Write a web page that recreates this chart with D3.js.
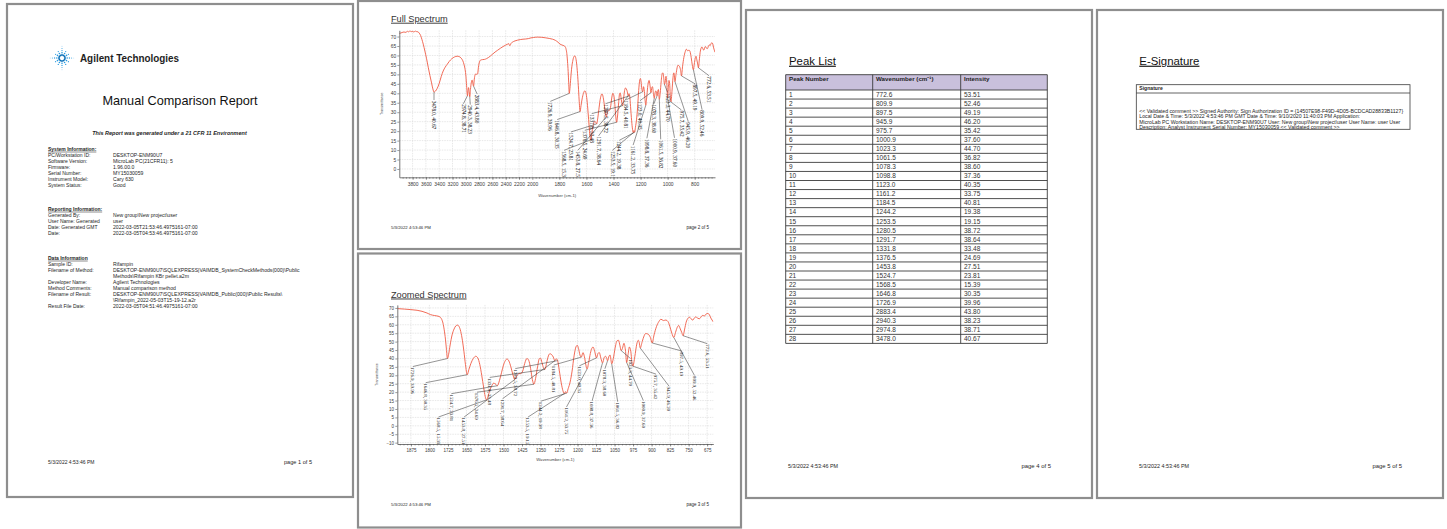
<!DOCTYPE html>
<html>
<head>
<meta charset="utf-8">
<script src="https://cdn.jsdelivr.net/npm/d3@7"></script>
<style>
  html, body { margin: 0; padding: 0; background: #fff; }
  svg { display: block; font-family: "Liberation Sans", Arial, sans-serif; }
</style>
</head>
<body>
<svg id="report" width="1447" height="529"></svg>
<script>
// ---- data ----
const peakWavenumbers = [772.6, 809.9, 897.5, 945.9, 975.7, 1000.9, 1023.3, 1061.5, 1078.3, 1098.8, 1123.0, 1161.2, 1184.5, 1244.2,
  1253.5, 1280.5, 1291.7, 1331.8, 1376.5, 1453.8, 1524.7, 1568.5, 1646.8, 1726.9, 2883.4, 2940.3, 2974.8, 3478.0];
const peakIntensities = [53.51, 52.46, 49.19, 46.20, 35.42, 37.60, 44.70, 36.82, 38.60, 37.36, 40.35, 33.75, 40.81, 19.38,
  19.15, 38.72, 38.64, 33.48, 24.69, 27.51, 23.81, 15.39, 30.35, 39.96, 43.80, 38.23, 38.71, 40.67];

// [wavenumber cm-1, %T]
const spectrumPoints = [
  [4000, 71.6], [3960, 72.1], [3930, 72.4], [3900, 72.2], [3880, 72.8], [3860, 72.5], [3840, 73.0], [3820, 72.6],
  [3800, 72.7], [3780, 72.4], [3760, 72.9], [3740, 72.6], [3720, 72.5], [3700, 71.8], [3680, 70.6], [3660, 68.5],
  [3640, 66.0], [3615, 62.3], [3590, 58.3], [3565, 53.8], [3540, 49.5], [3515, 45.5], [3495, 42.3], [3478, 40.67],
  [3455, 41.2], [3430, 42.6], [3400, 45.2], [3370, 48.8], [3340, 51.8], [3310, 53.8], [3280, 55.3], [3250, 56.8],
  [3210, 58.3], [3170, 59.2], [3130, 59.6], [3100, 59.4], [3070, 58.6], [3045, 57.2], [3025, 55.0], [3010, 52.5],
  [2998, 49.0], [2988, 44.0], [2974.8, 38.71], [2966, 41.5], [2958, 43.0], [2950, 41.0], [2940.3, 38.23], [2930, 42.0],
  [2918, 45.5], [2905, 47.0], [2895, 45.5], [2883.4, 43.80], [2872, 47.5], [2860, 49.8], [2848, 50.3], [2835, 50.0],
  [2822, 50.3], [2810, 53.8], [2795, 56.5], [2775, 57.6], [2750, 57.8], [2720, 57.9], [2690, 58.3], [2660, 58.9],
  [2630, 59.7], [2600, 60.6], [2560, 61.8], [2520, 62.8], [2480, 63.8], [2440, 64.7], [2400, 65.5], [2370, 66.0],
  [2355, 66.3], [2345, 65.4], [2335, 65.2], [2320, 66.4], [2300, 67.0], [2260, 67.7], [2220, 68.1], [2180, 68.4],
  [2140, 68.6], [2100, 68.7], [2060, 68.9], [2020, 69.3], [1990, 69.5], [1960, 69.7], [1930, 69.6], [1900, 69.3],
  [1875, 69.0], [1850, 68.6], [1830, 68.0], [1810, 67.0], [1795, 66.0], [1780, 65.5], [1765, 65.1], [1757, 64.6],
  [1750, 63.2], [1745, 61.0], [1740, 57.0], [1735, 51.5], [1731, 45.5], [1726.9, 39.96], [1722, 42.5], [1716, 48.0],
  [1708, 54.0], [1700, 57.5], [1693, 59.3], [1686, 59.8], [1680, 59.0], [1673, 56.0], [1666, 50.5], [1660, 44.0],
  [1654, 36.5], [1646.8, 30.35], [1640, 33.5], [1632, 37.0], [1622, 40.0], [1612, 41.3], [1604, 40.3], [1596, 36.5],
  [1588, 30.0], [1580, 22.5], [1574, 17.5], [1568.5, 15.39], [1562, 17.5], [1556, 21.0], [1548, 23.5], [1540, 25.3],
  [1532, 24.8], [1524.7, 23.81], [1516, 27.0], [1508, 31.5], [1500, 36.0], [1492, 38.8], [1486, 39.7], [1478, 38.5],
  [1470, 35.0], [1462, 30.5], [1453.8, 27.51], [1446, 29.5], [1438, 31.0], [1430, 31.0], [1422, 32.5], [1414, 37.0],
  [1405, 40.0], [1398, 39.0], [1390, 34.0], [1383, 27.5], [1376.5, 24.69], [1370, 28.0], [1362, 35.0], [1355, 39.8],
  [1350, 40.2], [1344, 37.5], [1338, 34.5], [1331.8, 33.48], [1325, 37.5], [1318, 41.5], [1312, 42.8], [1305, 42.3],
  [1298, 40.8], [1291.7, 38.64], [1286, 39.8], [1280.5, 38.72], [1274, 33.0], [1266, 25.5], [1259, 20.8], [1253.5, 19.15],
  [1249, 20.3], [1244.2, 19.38], [1238, 22.0], [1230, 26.0], [1222, 32.5], [1214, 41.5], [1206, 47.0], [1201, 47.8],
  [1196, 46.0], [1190, 42.0], [1184.5, 40.81], [1178, 43.5], [1172, 41.0], [1166, 36.0], [1161.2, 33.75], [1155, 37.5],
  [1148, 43.0], [1142, 46.0], [1137, 46.8], [1131, 44.5], [1123, 40.35], [1117, 43.0], [1112, 43.5], [1105, 40.0],
  [1098.8, 37.36], [1092, 40.5], [1087, 41.3], [1082, 40.2], [1078.3, 38.60], [1072, 41.5], [1068, 42.0], [1061.5, 36.82],
  [1055, 40.0], [1048, 46.0], [1040, 50.5], [1034, 50.8], [1028, 47.5], [1023.3, 44.70], [1018, 46.0], [1012, 49.0],
  [1006, 45.0], [1000.9, 37.60], [995, 42.5], [990, 46.8], [984, 44.0], [980, 38.0], [975.7, 35.42], [968, 41.0],
  [960, 48.5], [954, 50.8], [950, 49.5], [945.9, 46.20], [938, 50.0], [930, 53.5], [924, 54.8], [915, 54.5],
  [905, 52.5], [897.5, 49.19], [890, 54.0], [880, 59.0], [870, 62.0], [862, 63.3], [852, 62.5], [842, 62.8],
  [834, 62.0], [826, 59.0], [818, 55.0], [809.9, 52.46], [803, 55.5], [796, 58.5], [790, 59.6], [785, 58.0],
  [778, 55.5], [772.6, 53.51], [766, 57.5], [760, 61.5], [753, 63.8], [746, 64.5], [740, 63.5], [733, 62.8],
  [726, 64.2], [720, 64.7], [713, 63.8], [706, 63.6], [698, 65.0], [692, 65.6], [686, 65.2], [679, 66.4],
  [672, 66.7], [666, 66.0], [660, 64.0], [655, 62.8], [650, 61.7]
];

const fullXTicks = [3800, 3600, 3400, 3200, 3000, 2800, 2600, 2400, 2200, 2000, 1800, 1600, 1400, 1200, 1000, 800];
const fullYTicks = [0, 5, 10, 15, 20, 25, 30, 35, 40, 45, 50, 55, 60, 65, 70];
const zoomXTicks = [1875, 1800, 1725, 1650, 1575, 1500, 1425, 1350, 1275, 1200, 1125, 1050, 975, 900, 825, 750, 675];
const zoomYTicks = [-10, -5, 0, 5, 10, 15, 20, 25, 30, 35, 40, 45, 50, 55, 60, 65, 70];

const systemInfo = [
  ['PC/Workstation ID:', 'DESKTOP-ENM90U7'],
  ['Software Version:', 'MicroLab PC(21CFR11): 5'],
  ['Firmware:', '1.96.00.0'],
  ['Serial Number:', 'MY15030059'],
  ['Instrument Model:', 'Cary 630'],
  ['System Status:', 'Good']
];
const reportingInfo = [
  ['Generated By:', 'New group\\New project\\user'],
  ['User Name: Generated', 'user'],
  ['Date: Generated GMT', '2022-03-05T21:53:46.4975161-07:00'],
  ['Date:', '2022-03-05T04:53:46.4975161-07:00']
];
const dataInfo = [
  ['Sample ID:', 'Rifampin'],
  ['Filename of Method:', 'DESKTOP-ENM90U7\\SQLEXPRESS|VAIMDB_SystemCheckMethods(000)\\Public'],
  ['', 'Methods\\Rifampin KBr pellet.a2m'],
  ['Developer Name:', 'Agilent Technologies'],
  ['Method Comments:', 'Manual comparison method'],
  ['Filename of Result:', 'DESKTOP-ENM90U7\\SQLEXPRESS|VAIMDB_Public(000)\\Public Results\\'],
  ['', '\\Rifampin_2022-05-03T15-19-12.a2r'],
  ['Result File Date:', '2022-03-05T04:51:46.4975161-07:00']
];
const signatureLines = [
  '<< Validated comment >> Signed Authority: Sign Authorization ID = {14507E98-F49D-4D05-BCDCAD28833B1127}',
  'Local Date & Time: 5/3/2022 4:53:46 PM GMT Date & Time: 9/10/2020 11:40:03 PM Application:',
  'MicroLab PC Workstation Name: DESKTOP-ENM90U7 User: New group\\New project\\user User Name: user User',
  'Description: Analyst Instrument Serial Number: MY15030059 << Validated comment >>'
];
const printedAt = '5/3/2022 4:53:46 PM';

// ---- drawing ----
const svg = d3.select('#report');
svg.append('rect').attr('width', 1447).attr('height', 529).attr('fill', '#fff');

const pageFrames = [
  [7, 4, 346, 493],
  [358, 1, 383, 248],
  [358, 253.5, 383, 274],
  [746, 10, 346, 488],
  [1097, 10, 346, 488]
];
svg.append('g')
  .selectAll('rect')
  .data(pageFrames)
  .join('rect')
  .attr('x', (d) => d[0])
  .attr('y', (d) => d[1])
  .attr('width', (d) => d[2])
  .attr('height', (d) => d[3])
  .attr('fill', '#fff')
  .attr('stroke', '#8e8e8e')
  .attr('stroke-width', 2.2);

function txt(g, x, y, s, size, o = {}) {
  return g.append('text')
    .attr('x', x)
    .attr('y', y)
    .attr('dy', '0.35em')
    .attr('font-size', size)
    .attr('fill', o.fill || '#1e1e1e')
    .attr('font-weight', o.bold ? 'bold' : null)
    .attr('font-style', o.italic ? 'italic' : null)
    .attr('text-anchor', o.anchor || 'start')
    .style('text-decoration', o.underline ? 'underline' : null)
    .text(s);
}

// page 1
const p1 = svg.append('g');
const spark = p1.append('g').attr('transform', 'translate(62,58)');
d3.range(12).forEach((k) => {
  const a = (k * Math.PI) / 6;
  const len = k % 3 === 0 ? 5 : 3;
  d3.range(len).forEach((j) => {
    const r = 3 + j * 2.2;
    spark.append('circle')
      .attr('cx', Math.cos(a) * r)
      .attr('cy', Math.sin(a) * r)
      .attr('r', Math.max(0.35, 0.95 - j * 0.15))
      .attr('fill', j < 1 ? '#0a6fb8' : '#2a9be0');
  });
});
txt(p1, 80, 58, 'Agilent Technologies', 10.5, { bold: true })
  .attr('textLength', 99)
  .attr('lengthAdjust', 'spacingAndGlyphs');
txt(p1, 180, 101, 'Manual Comparison Report', 12.7, { anchor: 'middle', fill: '#111' });
txt(p1, 169.5, 133, 'This Report was generated under a 21 CFR 11 Environment', 5.5, { bold: true, italic: true, anchor: 'middle' });

function infoBlock(g, heading, rows, y0) {
  txt(g, 48, y0, heading, 5, { bold: true, underline: true });
  rows.forEach((r, i) => {
    const yy = y0 + 6 + i * 6.1;
    if (r[0]) txt(g, 48, yy, r[0], 5);
    txt(g, 113, yy, r[1], 5.1);
  });
}
infoBlock(p1, 'System Information:', systemInfo, 149);
infoBlock(p1, 'Reporting Information:', reportingInfo, 209);
infoBlock(p1, 'Data Information', dataInfo, 258);

function footer(g, x0, x1, y, page, s1, s2) {
  txt(g, x0, y, printedAt, s1);
  txt(g, x1, y, `page ${page} of 5`, s2, { anchor: 'end' });
}
footer(p1, 48, 312, 462, 1, 5, 5.6);

// label spreading: keep labels at least `gap` apart, centring each crowded group
function spreadLabels(targets, gap, lo, hi) {
  let groups = targets.map((t) => ({ sum: t, n: 1 }));
  const start = (g) => Math.max(lo, Math.min(hi - (g.n - 1) * gap, g.sum / g.n - ((g.n - 1) * gap) / 2));
  let changed = true;
  while (changed) {
    changed = false;
    for (let i = 0; i < groups.length - 1; i++) {
      const a = groups[i];
      const b = groups[i + 1];
      if (start(b) - (start(a) + (a.n - 1) * gap) < gap) {
        groups.splice(i, 2, { sum: a.sum + b.sum, n: a.n + b.n });
        changed = true;
        break;
      }
    }
  }
  const out = [];
  groups.forEach((g, gi) => {
    const s = start(g);
    for (let k = 0; k < g.n; k++) out.push({ x: s + k * gap, n: g.n, k, group: gi });
  });
  return out;
}

function drawSpectrum(cfg) {
  const g = svg.append('g');
  const x = d3.scaleLinear().domain(cfg.xDomain).range(cfg.xRange);
  const y = d3.scaleLinear().domain(cfg.yDomain).range([cfg.bottom, cfg.top]);
  const left = cfg.xRange[0];
  const right = cfg.xRange[cfg.xRange.length - 1];
  const wnMax = cfg.xDomain[0];
  const wnMin = cfg.xDomain[cfg.xDomain.length - 1];

  txt(g, cfg.titleX, cfg.titleY, cfg.title, 9.2, { underline: true, fill: '#333' });

  const clipId = cfg.id + '-clip';
  g.append('clipPath').attr('id', clipId)
    .append('rect')
    .attr('x', left).attr('y', cfg.top)
    .attr('width', right - left).attr('height', cfg.bottom - cfg.top);

  // grid
  g.append('g').selectAll('line').data(cfg.yTicks).join('line')
    .attr('x1', left).attr('x2', right)
    .attr('y1', (d) => y(d)).attr('y2', (d) => y(d))
    .attr('stroke', '#d6d6d6').attr('stroke-width', 0.6).attr('stroke-dasharray', '1.5,1');
  g.append('g').selectAll('line').data(cfg.xTicks).join('line')
    .attr('x1', (d) => x(d)).attr('x2', (d) => x(d))
    .attr('y1', cfg.top).attr('y2', cfg.bottom)
    .attr('stroke', '#d6d6d6').attr('stroke-width', 0.6).attr('stroke-dasharray', '1.5,1');

  // spectrum
  const pts = spectrumPoints.filter((d) => d[0] <= wnMax && d[0] >= wnMin);
  g.append('path').datum(pts)
    .attr('clip-path', `url(#${clipId})`)
    .attr('fill', 'none')
    .attr('stroke', '#ef5a44')
    .attr('stroke-width', 0.9)
    .attr('d', d3.line().x((d) => x(d[0])).y((d) => y(d[1])).curve(d3.curveMonotoneX));

  // peak labels: spread horizontally; drop a label lower when its right-hand
  // neighbour in the same crowd sits at a similar height and was kept high
  const peaks = peakWavenumbers
    .map((wn, i) => ({ wn, val: peakIntensities[i], num: i + 1 }))
    .filter((p) => p.wn <= wnMax && p.wn >= wnMin)
    .sort((a, b) => b.wn - a.wn);
  const spots = spreadLabels(peaks.map((p) => x(p.wn)), cfg.labelGap, left + 4, right - 6);
  peaks.forEach((p, i) => {
    p.px = x(p.wn);
    p.py = y(p.val);
    p.lx = spots[i].x;
  });
  for (let i = peaks.length - 1; i >= 0; i--) {
    const p = peaks[i];
    const nb = peaks[i + 1];
    p.big = !!nb && spots[i].n > 3 && spots[i + 1].group === spots[i].group &&
      !nb.big && Math.abs(nb.val - p.val) < 8.5;
    p.ly = Math.min(p.py + (p.big ? cfg.bigDrop : cfg.smallDrop), cfg.bottom - 27);
  }
  const lab = g.append('g').attr('clip-path', `url(#${clipId})`);
  lab.selectAll('line').data(peaks).join('line')
    .attr('x1', (d) => d.px).attr('y1', (d) => d.py)
    .attr('x2', (d) => d.lx).attr('y2', (d) => d.ly)
    .attr('stroke', '#2b2b2b').attr('stroke-width', 0.5);
  lab.selectAll('text').data(peaks).join('text')
    .attr('transform', (d) => `translate(${d.lx},${d.ly + 0.6}) rotate(90)`)
    .attr('dy', '0.35em')
    .attr('font-family', '"Liberation Serif", "DejaVu Serif", serif')
    .attr('font-size', cfg.labelFont)
    .attr('fill', '#111')
    .text((d) => `${d.wn.toFixed(1)}, ${d.val.toFixed(2)}`);

  // axes
  const xa = g.append('g').attr('transform', `translate(0,${cfg.bottom})`)
    .call(d3.axisBottom(x).tickValues(cfg.xTicks).tickSize(2.5).tickSizeOuter(0).tickPadding(cfg.xPad).tickFormat(d3.format('d')));
  g.append('g').attr('transform', `translate(0,${cfg.bottom})`)
    .call(d3.axisBottom(x).tickValues(cfg.minorTicks).tickSize(1.4).tickSizeOuter(0).tickFormat(''))
    .call((a) => a.select('.domain').remove());
  const ya = g.append('g').attr('transform', `translate(${left},0)`)
    .call(d3.axisLeft(y).tickValues(cfg.yTicks).tickSize(2).tickSizeOuter(0).tickPadding(1.2));
  [xa, ya].forEach((a) => {
    a.selectAll('text').attr('font-size', cfg.tickFont).attr('fill', '#3a3a3a').attr('font-family', '"Liberation Sans", Arial, sans-serif');
    a.select('.domain').attr('stroke', '#555').attr('stroke-width', 0.8);
  });
  g.selectAll('.tick line').attr('stroke', '#555').attr('stroke-width', 0.6);

  txt(g, (left + right) / 2, cfg.xTitleY, 'Wavenumber (cm-1)', 4.2, { anchor: 'middle', fill: '#444' });
  txt(g, 0, 0, 'Transmittance', 3.6, { anchor: 'middle', fill: '#444' })
    .attr('transform', `translate(${cfg.yTitleX},${(cfg.top + cfg.bottom) / 2}) rotate(-90)`);

  footer(g, 391, 709, cfg.footerY, cfg.page, 4.3, 4.5);
}

drawSpectrum({
  id: 'full', page: 2, title: 'Full Spectrum', titleX: 391, titleY: 18.5,
  xDomain: [4000, 2000, 650], xRange: [399.3, 532.3, 715],
  yDomain: [-4.4, 73.3], top: 30.3, bottom: 177.3,
  xTicks: fullXTicks, yTicks: fullYTicks,
  minorTicks: d3.range(3950, 2000, -50).concat(d3.range(1975, 650, -25)),
  labelGap: 6.9, smallDrop: 8, bigDrop: 40, labelFont: 5.2,
  tickFont: 4.9, xPad: 3.2, xTitleY: 195.7, yTitleX: 381.7, footerY: 227
});

drawSpectrum({
  id: 'zoom', page: 3, title: 'Zoomed Spectrum', titleX: 391, titleY: 294.3,
  xDomain: [1930, 650], xRange: [397.3, 713.3],
  yDomain: [-10.8, 71.8], top: 304.9, bottom: 444,
  xTicks: zoomXTicks, yTicks: zoomYTicks,
  minorTicks: d3.range(1920, 650, -15),
  labelGap: 12.8, smallDrop: 8, bigDrop: 38, labelFont: 4.9,
  tickFont: 4.5, xPad: 2.6, xTitleY: 460, yTitleX: 376.7, footerY: 504
});

// page 4: peak table
const p4 = svg.append('g');
txt(p4, 789, 60.7, 'Peak List', 11.4, { underline: true, fill: '#111' });
const colX = [785.7, 872.7, 960.7, 1047.3];
const headTop = 74.7;
const headBottom = 90;
const rowH = 9.05;
p4.append('rect').attr('x', colX[0]).attr('y', headTop)
  .attr('width', colX[3] - colX[0]).attr('height', headBottom - headTop)
  .attr('fill', '#c9c0dc');
const tableBottom = headBottom + rowH * peakWavenumbers.length;
p4.append('g').selectAll('line').data(d3.range(peakWavenumbers.length + 1)).join('line')
  .attr('x1', colX[0]).attr('x2', colX[3])
  .attr('y1', (i) => headBottom + i * rowH).attr('y2', (i) => headBottom + i * rowH)
  .attr('stroke', '#3c3c3c').attr('stroke-width', 0.9);
p4.append('line').attr('x1', colX[0]).attr('x2', colX[3]).attr('y1', headTop).attr('y2', headTop)
  .attr('stroke', '#3c3c3c').attr('stroke-width', 0.9);
p4.append('g').selectAll('line').data(colX).join('line')
  .attr('x1', (d) => d).attr('x2', (d) => d)
  .attr('y1', headTop).attr('y2', tableBottom)
  .attr('stroke', '#3c3c3c').attr('stroke-width', 0.9);
['Peak Number', 'Wavenumber (cm⁻¹)', 'Intensity'].forEach((h, j) => {
  txt(p4, colX[j] + 3.3, headTop + 4.6, h, 6.2, { bold: true });
});
peakWavenumbers.forEach((wn, i) => {
  const yy = headBottom + i * rowH + rowH / 2;
  txt(p4, colX[0] + 3.3, yy, String(i + 1), 6.5, { fill: '#333' });
  txt(p4, colX[1] + 3.3, yy, wn.toFixed(1), 6.5, { fill: '#333' });
  txt(p4, colX[2] + 3.3, yy, peakIntensities[i].toFixed(2), 6.5, { fill: '#333' });
});
footer(p4, 788, 1051, 466, 4, 5.4, 5.9);

// page 5: e-signature
const p5 = svg.append('g');
txt(p5, 1139.3, 60.7, 'E-Signature', 11.4, { underline: true, fill: '#111' });
p5.append('rect').attr('x', 1136.3).attr('y', 84.7).attr('width', 273.7).attr('height', 44.6)
  .attr('fill', 'none').attr('stroke', '#3c3c3c').attr('stroke-width', 0.8);
p5.append('line').attr('x1', 1136.3).attr('x2', 1410).attr('y1', 93).attr('y2', 93)
  .attr('stroke', '#3c3c3c').attr('stroke-width', 0.8);
txt(p5, 1139.3, 88.6, 'Signature', 5.1, { bold: true });
signatureLines.forEach((s, i) => txt(p5, 1139.3, 110.8 + i * 5.45, s, 5.2));
footer(p5, 1139, 1402, 466, 5, 5.4, 5.9);
</script>
</body>
</html>
